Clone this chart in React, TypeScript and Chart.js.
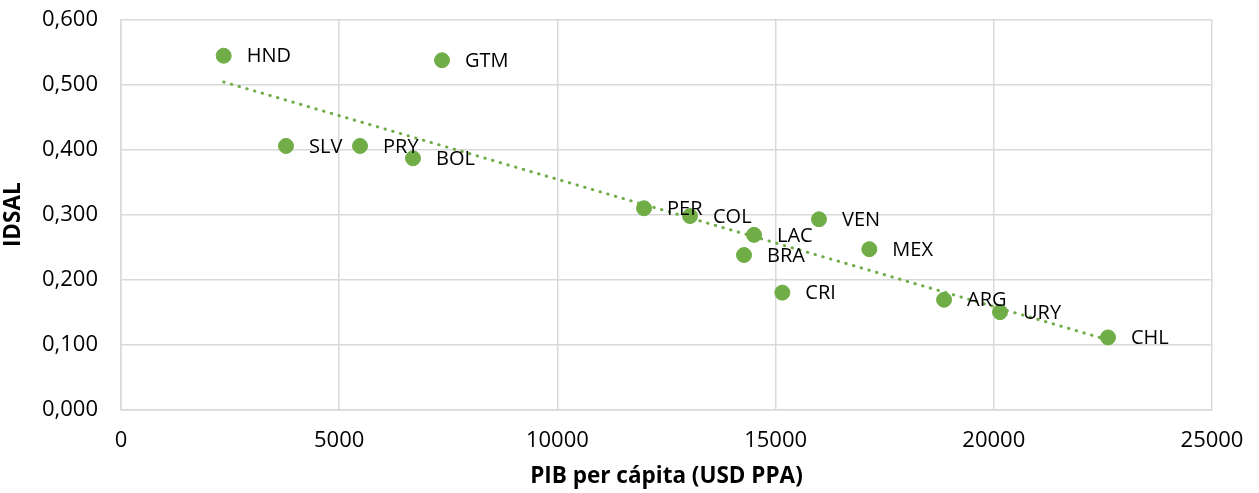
import React, { useEffect, useRef } from "react";
import { Chart, registerables } from "chart.js";

Chart.register(...registerables);

const countries = ["HND", "GTM", "SLV", "PRY", "BOL", "PER", "COL", "LAC", "VEN", "BRA", "MEX", "CRI", "ARG", "URY", "CHL"];
const gdpPerCapita = [2353, 7356, 3781, 5477, 6691, 11985, 13039, 14505, 15994, 14276, 17148, 15154, 18860, 20142, 22617];
const idsal = [0.545, 0.538, 0.406, 0.406, 0.387, 0.310, 0.298, 0.269, 0.293, 0.238, 0.247, 0.180, 0.169, 0.150, 0.111];

const xTitle = "PIB per cápita (USD PPA)";
const yTitle = "IDSAL";

const GREEN = "#70AD47";
const FONT = "'Open Sans', 'Noto Sans', sans-serif";

function linearFit(xs: number[], ys: number[]) {
  const n = xs.length;
  const mx = xs.reduce((a, b) => a + b, 0) / n;
  const my = ys.reduce((a, b) => a + b, 0) / n;
  let sxy = 0, sxx = 0;
  for (let i = 0; i < n; i++) {
    sxy += (xs[i] - mx) * (ys[i] - my);
    sxx += (xs[i] - mx) * (xs[i] - mx);
  }
  const slope = sxy / sxx;
  return { slope, intercept: my - slope * mx };
}

const labelPlugin = {
  id: "pointLabels",
  afterDatasetsDraw(chart: any) {
    const ctx = chart.ctx;
    const meta = chart.getDatasetMeta(0);
    ctx.save();
    ctx.font = `20px ${FONT}`;
    ctx.fillStyle = "#000";
    ctx.textAlign = "left";
    ctx.textBaseline = "middle";
    meta.data.forEach((pt: any, i: number) => {
      ctx.fillText(countries[i], pt.x + 23, pt.y + 1);
    });
    ctx.restore();
  },
};

export default function App() {
  const ref = useRef<HTMLCanvasElement>(null);

  useEffect(() => {
    document.body.style.margin = "0";
    const fit = linearFit(gdpPerCapita, idsal);
    const xMin = Math.min(...gdpPerCapita);
    const xMax = Math.max(...gdpPerCapita);
    const trend = [
      { x: xMin, y: fit.intercept + fit.slope * xMin },
      { x: xMax, y: fit.intercept + fit.slope * xMax },
    ];
    const chart = new Chart(ref.current!, {
      type: "scatter",
      data: {
        datasets: [
          {
            label: "IDSAL",
            data: gdpPerCapita.map((x, i) => ({ x, y: idsal[i] })),
            backgroundColor: GREEN,
            borderColor: GREEN,
            pointRadius: 7.5,
            pointHoverRadius: 7.5,
            order: 2,
          },
          {
            label: "Tendencia",
            type: "line",
            data: trend,
            borderColor: GREEN,
            borderWidth: 3,
            borderDash: [0.5, 7.5],
            borderCapStyle: "round",
            pointRadius: 0,
            fill: false,
            order: 1,
          } as any,
        ],
      },
      options: {
        animation: false,
        responsive: true,
        maintainAspectRatio: false,
        layout: { padding: { top: 20, right: 47, left: 0, bottom: 0 } },
        plugins: {
          legend: { display: false },
          tooltip: { enabled: false },
        },
        scales: {
          x: {
            type: "linear",
            min: 0,
            max: 25000,
            ticks: {
              stepSize: 5000,
              padding: 18,
              color: "#000",
              font: { family: FONT, size: 22 },
              callback: (v: any) => String(v),
            },
            grid: { color: "#d9d9d9", lineWidth: 1.5, drawTicks: false },
            border: { color: "#d9d9d9", width: 1.5 },
            title: {
              display: true,
              text: xTitle,
              color: "#000",
              font: { family: FONT, size: 22.5, weight: "bold" },
              padding: { top: 0, bottom: 3 },
            },
            afterFit: (scale: any) => {
              scale.height = 83.5;
              scale.paddingLeft = 0;
              scale.paddingRight = 0;
            },
          },
          y: {
            type: "linear",
            min: 0,
            max: 0.6,
            ticks: {
              stepSize: 0.1,
              padding: 23,
              color: "#000",
              font: { family: FONT, size: 22 },
              callback: (v: any) => Number(v).toFixed(3).replace(".", ","),
            },
            grid: { color: "#d9d9d9", lineWidth: 1.5, drawTicks: false },
            border: { color: "#d9d9d9", width: 1.5 },
            title: {
              display: true,
              text: yTitle,
              color: "#000",
              font: { family: FONT, size: 22.5, weight: "bold" },
              padding: { top: 0, bottom: 0 },
            },
            afterFit: (scale: any) => {
              scale.width = 121;
              scale.paddingTop = 0;
              scale.paddingBottom = 0;
            },
          },
        },
      } as any,
      plugins: [labelPlugin],
    });
    return () => chart.destroy();
  }, []);

  return (
    <div style={{ position: "absolute", left: 0, top: 0, width: 1259, height: 493, background: "#fff" }}>
      <canvas ref={ref} />
    </div>
  );
}
